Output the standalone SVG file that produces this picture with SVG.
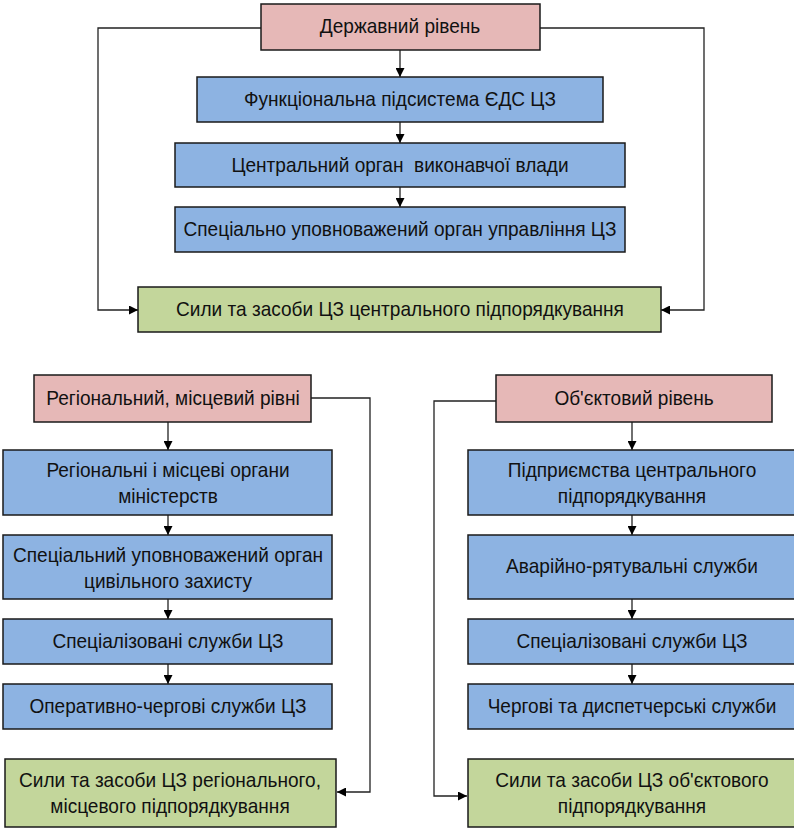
<svg xmlns="http://www.w3.org/2000/svg" width="794" height="830" viewBox="0 0 794 830">
<defs>
<marker id="ah" viewBox="0 0 10 10" refX="10" refY="5" markerWidth="9" markerHeight="9" markerUnits="userSpaceOnUse" orient="auto">
<path d="M0,0 L10,5 L0,10 z" fill="#000"/>
</marker>
</defs>
<style>
.lvl{fill:#e6b8b7;stroke:#1a1a1a;stroke-width:1.5}
.blu{fill:#8db3e2;stroke:#1a1a1a;stroke-width:1.5}
.grn{fill:#c3d69b;stroke:#1a1a1a;stroke-width:1.5}
text{font-family:"Liberation Sans",Arial,sans-serif;font-size:20.5px;fill:#111;text-anchor:middle}
.c{fill:none;stroke:#222;stroke-width:1.3;marker-end:url(#ah)}
</style>
<rect width="794" height="830" fill="#fff"/>
<g id="connectors">
<path class="c" d="M261,28 H98 V310 H138"/>
<path class="c" d="M540,28 H704 V310 H661"/>
<path class="c" d="M400,50 V77"/>
<path class="c" d="M400,122 V143"/>
<path class="c" d="M400,187 V207"/>
<path class="c" d="M311,398 H370 V792 H337"/>
<path class="c" d="M168,422 V450"/>
<path class="c" d="M168,515 V535"/>
<path class="c" d="M168,599 V619"/>
<path class="c" d="M168,664 V684"/>
<path class="c" d="M496,401 H434 V796 H467"/>
<path class="c" d="M632,422 V450"/>
<path class="c" d="M632,515 V535"/>
<path class="c" d="M632,599 V619"/>
<path class="c" d="M632,664 V684"/>
</g>
<g id="n-state"><rect class="lvl" x="261" y="4" width="279" height="46"/><text transform="translate(400,33) scale(0.93,1)">Державний рівень</text></g>
<g id="n-func"><rect class="blu" x="197" y="77" width="406" height="45"/><text transform="translate(400,106) scale(0.93,1)">Функціональна підсистема ЄДС ЦЗ</text></g>
<g id="n-central"><rect class="blu" x="175" y="143" width="450" height="44"/><text transform="translate(400,172) scale(0.93,1)">Центральний орган&#160; виконавчої влади</text></g>
<g id="n-special"><rect class="blu" x="175" y="207" width="450" height="45"/><text transform="translate(400,236) scale(0.93,1)">Спеціально уповноважений орган управління ЦЗ</text></g>
<g id="n-forces-central"><rect class="grn" x="138" y="287" width="523" height="45"/><text transform="translate(400,316) scale(0.93,1)">Сили та засоби ЦЗ центрального підпорядкування</text></g>

<g id="n-regional"><rect class="lvl" x="34" y="375" width="277" height="47"/><text transform="translate(173,405) scale(0.93,1)">Регіональний, місцевий рівні</text></g>
<g id="n-reg-min"><rect class="blu" x="3" y="450" width="329" height="65"/><text transform="translate(168,477) scale(0.93,1)">Регіональні і місцеві органи</text><text transform="translate(168,503) scale(0.93,1)">міністерств</text></g>
<g id="n-reg-special"><rect class="blu" x="3" y="535" width="329" height="64"/><text transform="translate(168,562) scale(0.93,1)">Спеціальний уповноважений орган</text><text transform="translate(168,588) scale(0.93,1)">цивільного захисту</text></g>
<g id="n-reg-spec-serv"><rect class="blu" x="3" y="619" width="329" height="45"/><text transform="translate(168,648) scale(0.93,1)">Спеціалізовані служби ЦЗ</text></g>
<g id="n-reg-duty"><rect class="blu" x="3" y="684" width="329" height="45"/><text transform="translate(168,713) scale(0.93,1)">Оперативно-чергові служби ЦЗ</text></g>
<g id="n-reg-forces"><rect class="grn" x="5" y="759" width="331" height="68"/><text transform="translate(170,787) scale(0.93,1)">Сили та засоби ЦЗ регіонального,</text><text transform="translate(170,813) scale(0.93,1)">місцевого підпорядкування</text></g>

<g id="n-object"><rect class="lvl" x="496" y="375" width="276" height="47"/><text transform="translate(634,405) scale(0.93,1)">Об'єктовий рівень</text></g>
<g id="n-obj-ent"><rect class="blu" x="468" y="450" width="330" height="65"/><text transform="translate(632,477) scale(0.93,1)">Підприємства центрального</text><text transform="translate(632,503) scale(0.93,1)">підпорядкування</text></g>
<g id="n-obj-rescue"><rect class="blu" x="468" y="535" width="330" height="64"/><text transform="translate(632,573) scale(0.93,1)">Аварійно-рятувальні служби</text></g>
<g id="n-obj-spec-serv"><rect class="blu" x="468" y="619" width="330" height="45"/><text transform="translate(632,648) scale(0.93,1)">Спеціалізовані служби ЦЗ</text></g>
<g id="n-obj-duty"><rect class="blu" x="468" y="684" width="330" height="45"/><text transform="translate(632,713) scale(0.93,1)">Чергові та диспетчерські служби</text></g>
<g id="n-obj-forces"><rect class="grn" x="468" y="759" width="330" height="68"/><text transform="translate(632,787) scale(0.93,1)">Сили та засоби ЦЗ об'єктового</text><text transform="translate(632,813) scale(0.93,1)">підпорядкування</text></g>
</svg>
